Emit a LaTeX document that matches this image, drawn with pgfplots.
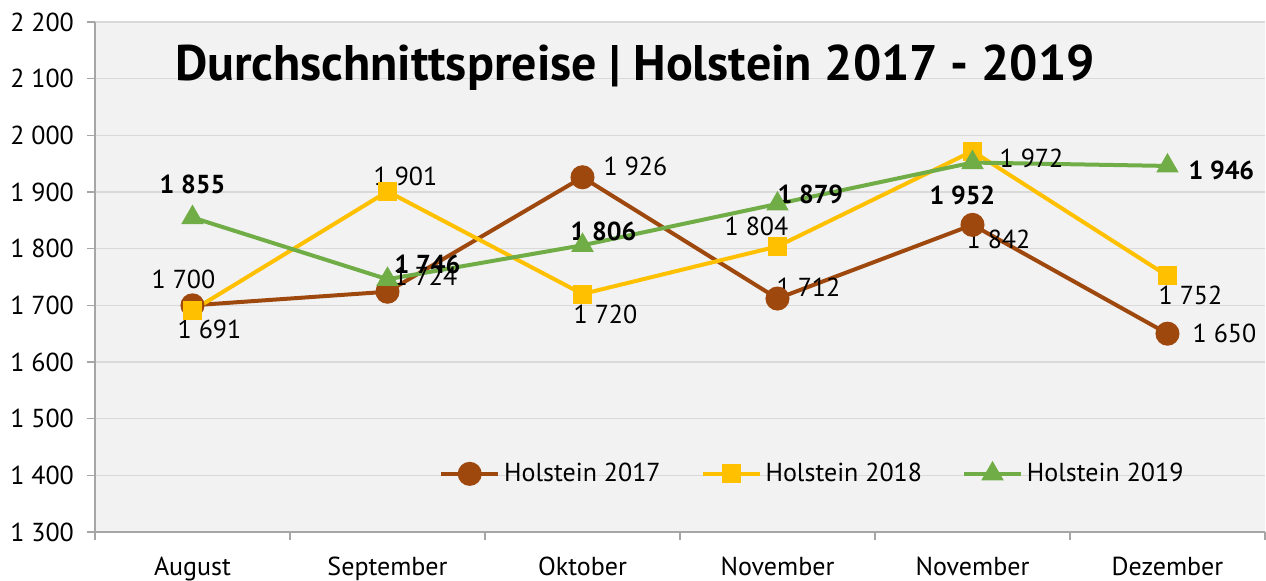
\documentclass[border=0pt]{standalone}
\usepackage{pgfplots}
\pgfplotsset{compat=1.18}
\usepackage{fontspec}
\setmainfont{PT Sans}
\definecolor{c17}{RGB}{158,72,14}
\definecolor{c18}{RGB}{255,192,0}
\definecolor{c19}{RGB}{112,173,71}
\definecolor{bg}{RGB}{242,242,242}
\definecolor{gridc}{RGB}{217,217,217}
\definecolor{axc}{RGB}{166,166,166}
\newcommand{\fs}{\fontsize{13}{15}\selectfont}
\begin{document}
\begin{tikzpicture}
\begin{axis}[name=ax, at={(0,0)}, anchor=south west,
  scale only axis, width=585pt, height=255pt,
  xmin=-0.5, xmax=5.5, ymin=1300, ymax=2200,
  clip=false,
  axis background/.style={fill=bg},
  axis lines*=left,
  axis line style={draw=axc, line width=0.6pt, -},
  tick align=outside,
  xtick={0,1,2,3,4,5},
  xticklabels={August,September,Oktober,November,November,Dezember},
  major x tick style={draw=none},
  minor xtick={-0.5,0.5,1.5,2.5,3.5,4.5,5.5},
  minor tick length=4pt,
  minor x tick style={draw=axc, line width=0.6pt},
  ytick={1300,1400,...,2200},
  major tick length=4pt,
  major y tick style={draw=axc, line width=0.6pt},
  ymajorgrids,
  grid style={draw=gridc, line width=0.6pt},
  tick label style={font=\fs, text=black},
  xticklabel style={yshift=-5pt},
  yticklabel style={xshift=-3pt},
  /pgf/number format/assume math mode=true,
  /pgf/number format/1000 sep={\ },
  legend style={at={(0.614,0.114)}, anchor=center, draw=none, fill=none,
    font=\fs, legend columns=3,
    /tikz/every even column/.append style={column sep=18pt}},
  legend image code/.code={\draw[mark repeat=2,mark phase=2,#1] plot coordinates {(0cm,0cm) (0.5cm,0cm) (1cm,0cm)};},
]
\addplot[c17, line width=2pt, mark=*, mark size=5pt, mark options={solid, fill=c17}]
  coordinates {(0,1700) (1,1724) (2,1926) (3,1712) (4,1842) (5,1650)};
\addlegendentry{Holstein 2017}
\addplot[c18, line width=2pt, mark=square*, mark size=3.75pt, mark options={solid, fill=c18}]
  coordinates {(0,1691) (1,1901) (2,1720) (3,1804) (4,1972) (5,1752)};
\addlegendentry{Holstein 2018}
\addplot[c19, line width=2pt, mark=triangle*, mark size=4.5pt, mark options={solid, fill=c19}]
  coordinates {(0,1855) (1,1746) (2,1806) (3,1879) (4,1952) (5,1946)};
\addlegendentry{Holstein 2019}

% labels 2017
\node[font=\fs, xshift=-4.5pt, yshift=13pt] at (axis cs:0,1700) {1 700};
\node[font=\fs, xshift=19pt, yshift=7.5pt] at (axis cs:1,1724) {1 724};
\node[font=\fs, xshift=26.5pt, yshift=5.5pt] at (axis cs:2,1926) {1 926};
\node[font=\fs, xshift=15.5pt, yshift=5.5pt] at (axis cs:3,1712) {1 712};
\node[font=\fs, xshift=13pt, yshift=-7.5pt] at (axis cs:4,1842) {1 842};
\node[font=\fs, xshift=28.5pt, yshift=0pt] at (axis cs:5,1650) {1 650};
% labels 2018
\node[font=\fs, xshift=8.5pt, yshift=-9.5pt] at (axis cs:0,1691) {1 691};
\node[font=\fs, xshift=9pt, yshift=7.5pt] at (axis cs:1,1901) {1 901};
\node[font=\fs, xshift=11.5pt, yshift=-10pt] at (axis cs:2,1720) {1 720};
\node[font=\fs, xshift=-10.5pt, yshift=10pt] at (axis cs:3,1804) {1 804};
\node[font=\fs, xshift=29.5pt, yshift=-3.5pt] at (axis cs:4,1972) {1 972};
\node[font=\fs, xshift=11.5pt, yshift=-10pt] at (axis cs:5,1752) {1 752};
% labels 2019
\node[font=\fs\bfseries, xshift=0pt, yshift=16.5pt] at (axis cs:0,1855) {1 855};
\node[font=\fs\bfseries, xshift=20pt, yshift=7.5pt] at (axis cs:1,1746) {1 746};
\node[font=\fs\bfseries, xshift=10.5pt, yshift=7pt] at (axis cs:2,1806) {1 806};
\node[font=\fs\bfseries, xshift=16.5pt, yshift=5pt] at (axis cs:3,1879) {1 879};
\node[font=\fs\bfseries, xshift=-5pt, yshift=-16.5pt] at (axis cs:4,1952) {1 952};
\node[font=\fs\bfseries, xshift=27pt, yshift=-2pt] at (axis cs:5,1946) {1 946};

\node[font=\fontsize{25}{30}\selectfont\bfseries] at (rel axis cs:0.4615,0.91) {Durchschnittspreise | Holstein 2017 - 2019};
\end{axis}
\pgfresetboundingbox
\path[use as bounding box] (-47.5pt,-24pt) rectangle (585.5pt,266pt);
\end{tikzpicture}
\end{document}
